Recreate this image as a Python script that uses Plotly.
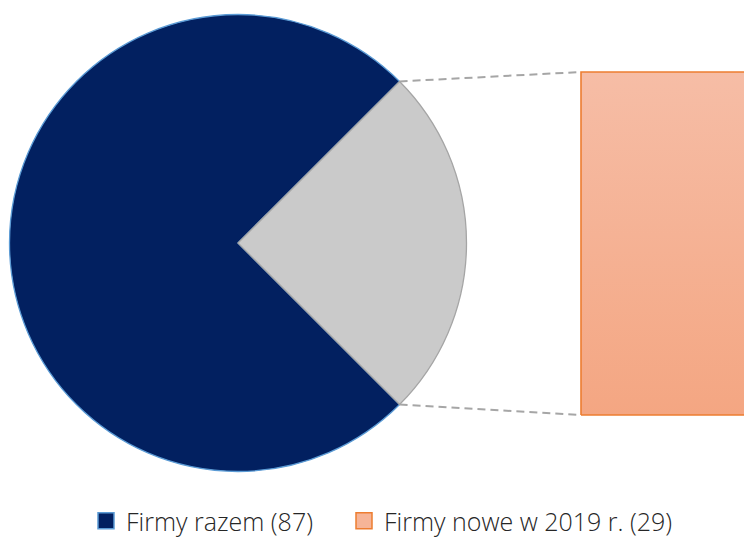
import math
import plotly.graph_objects as go

# ---- data ----
pie_labels = ["Firmy razem", "Firmy nowe w 2019 r."]
pie_values = [87, 29]
bar_value = [29]
legend_labels = ["Firmy razem (87)", "Firmy nowe w 2019 r. (29)"]

# ---- layout constants ----
W, H = 744, 539
CX, CY, R = 238.0, 243.0, 228.5          # pie centre / radius in px (from top-left)
BAR_TOP_PX, BAR_BOT_PX, BAR_LEFT_PX = 72.0, 415.0, 581.0
BAR_HALF = 1.0                            # half width of bar in x units

NAVY = "#022060"
NAVY_LINE = "#5B9BD5"
GREY = "#CACACA"
GREY_LINE = "#A5A5A5"
ORANGE_TOP = "#F6BDA6"
ORANGE_BOT = "#F4A682"
ORANGE_LINE = "#ED7D31"

fig = go.Figure()

other_share = pie_values[1] / sum(pie_values)
half_angle = 360 * other_share / 2
fig.add_trace(go.Pie(
    labels=pie_labels, values=pie_values, sort=False, direction="clockwise",
    rotation=90 + half_angle,
    marker=dict(colors=[NAVY, GREY], line=dict(color=[NAVY_LINE, GREY_LINE], width=1.3)),
    textinfo="none", hoverinfo="label+value", showlegend=False,
    domain=dict(x=[(CX - R) / W, (CX + R) / W], y=[1 - (CY + R) / H, 1 - (CY - R) / H]),
))

# the bar of the "pie of bar" (gradient filled box on the bar axes)
v = bar_value[0]
fig.add_trace(go.Scatter(
    x=[-BAR_HALF, BAR_HALF, BAR_HALF, -BAR_HALF, -BAR_HALF], y=[0, 0, v, v, 0],
    mode="lines", fill="toself",
    fillgradient=dict(type="vertical", colorscale=[[0, ORANGE_BOT], [1, ORANGE_TOP]], start=0, stop=v),
    line=dict(color=ORANGE_LINE, width=1.6),
    name=legend_labels[1], showlegend=False, hoverinfo="y",
))

# legend entries (two independent legends so they can be placed like the original)
fig.add_trace(go.Scatter(
    x=[None], y=[None], mode="markers", name=legend_labels[0], legend="legend",
    marker=dict(symbol="square", size=16, color=NAVY, line=dict(color=NAVY_LINE, width=1.5)),
))
fig.add_trace(go.Scatter(
    x=[None], y=[None], mode="markers", name=legend_labels[1], legend="legend2",
    marker=dict(symbol="square", size=16, color="#F6B497", line=dict(color=ORANGE_LINE, width=1.5)),
))

pad_units = 0.5
px_per_unit = (BAR_BOT_PX - BAR_TOP_PX) / v
y_dom_bot = 1 - (BAR_BOT_PX + pad_units * px_per_unit) / H
y_dom_top = 1 - (BAR_TOP_PX - pad_units * px_per_unit) / H
x_dom_left_px = BAR_LEFT_PX - 6
xs = 120.0  # px per x unit
x_range = [-BAR_HALF - 6 / xs, -BAR_HALF - 6 / xs + (W - x_dom_left_px) / xs]

leg_font = dict(family="Open Sans", size=25, color="#262626", weight=300)
leg_y = 1 - 521 / H
fig.update_layout(
    width=W, height=H, margin=dict(l=0, r=0, t=0, b=0, autoexpand=False),
    paper_bgcolor="white", plot_bgcolor="rgba(0,0,0,0)",
    xaxis=dict(domain=[x_dom_left_px / W, 1], range=x_range, visible=False, fixedrange=True),
    yaxis=dict(domain=[y_dom_bot, y_dom_top], range=[-pad_units, v + pad_units],
               visible=False, fixedrange=True),
    showlegend=True,
    legend=dict(orientation="h", x=86 / W, xanchor="left", y=leg_y, yanchor="middle",
                font=leg_font, itemsizing="trace", bgcolor="rgba(0,0,0,0)"),
    legend2=dict(orientation="h", x=344 / W, xanchor="left", y=leg_y, yanchor="middle",
                 font=leg_font, itemsizing="trace", bgcolor="rgba(0,0,0,0)"),
)

# dashed connector lines: from pie slice edges to bar corners
a = math.radians(half_angle)
for sgn, bar_y in ((-1, BAR_TOP_PX), (1, BAR_BOT_PX)):
    px0 = CX + R * math.cos(a)
    py0 = CY + sgn * R * math.sin(a)
    fig.add_shape(type="line", xref="paper", yref="paper",
                  x0=px0 / W, y0=1 - py0 / H, x1=BAR_LEFT_PX / W, y1=1 - bar_y / H,
                  line=dict(color="#A6A6A6", width=2, dash="8px,5px"))

fig.write_html("out.html", config={"displayModeBar": False},
               post_script="document.body.style.margin='0';document.body.style.overflow='hidden';")
